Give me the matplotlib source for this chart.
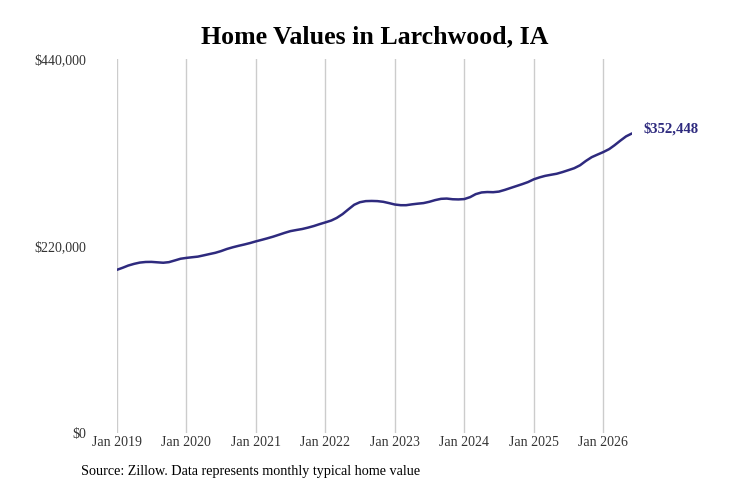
import matplotlib
matplotlib.use("Agg")
import matplotlib.pyplot as plt
import numpy as np
import pandas as pd

# ---- data ----
start_month = "2019-01-01"
values = [
    # 2019
    192000, 194500, 197000, 199000, 200500, 201200, 201300, 200800, 200300, 201000, 203000, 205000,
    # 2020
    206000, 206800, 207500, 209000, 210500, 212000, 214000, 216500, 218500, 220200, 221800, 223500,
    # 2021
    225500, 227300, 229000, 231000, 233200, 235500, 237500, 238800, 240000, 241600, 243500, 245700,
    # 2022
    247800, 250000, 253000, 257500, 263000, 268500, 271500, 272800, 273000, 272800, 272000, 270500,
    # 2023
    268800, 268000, 268000, 269000, 269800, 270500, 272000, 274000, 275500, 275800, 275000, 274800,
    # 2024
    275200, 277500, 281000, 283000, 283500, 283300, 284000, 286000, 288300, 290500, 292800, 295200,
    # 2025
    298500, 300800, 302500, 303800, 305000, 307000, 309200, 311500, 315000, 320000, 324500, 327500,
    # 2026
    330500, 334000, 338500, 344000, 349000, 352448,
]
dates = pd.date_range(start_month, periods=len(values), freq="MS")
ytick_values = [0, 220000, 440000]
ytick_labels = ["$0", "$220,000", "$440,000"]
xtick_years = list(range(2019, 2027))
xtick_labels = [f"Jan {y}" for y in xtick_years]
title = "Home Values in Larchwood, IA"
source = "Source: Zillow. Data represents monthly typical home value"
end_label = "$352,448"

# ---- style ----
plt.rcParams["font.family"] = ["Liberation Serif", "DejaVu Serif"]
line_color = "#2e2a7e"
text_color = "#333333"

fig = plt.figure(figsize=(7.31, 4.87), dpi=100)
ax = fig.add_axes([117 / 731, 1 - 433 / 487, (632 - 117) / 731, (433 - 59) / 487])

ax.plot(dates, values, color=line_color, lw=1.8, solid_capstyle="round")

ax.set_xlim(dates[0], dates[-1])
ax.set_ylim(0, 440000)

xt = [pd.Timestamp(f"{y}-01-01") for y in xtick_years]
ax.set_xticks(xt)
ax.set_xticklabels(xtick_labels, fontsize=10, color=text_color)
ax.set_yticks(ytick_values)
ax.set_yticklabels(ytick_labels, fontsize=10, color=text_color)
ax.tick_params(axis="both", length=0)
ax.tick_params(axis="y", pad=22)
ax.tick_params(axis="x", pad=2)

ax.grid(axis="x", color="#cccccc", lw=1)
ax.grid(axis="y", visible=False)
for s in ax.spines.values():
    s.set_visible(False)

ax.annotate(end_label, xy=(dates[-1], values[-1]), xytext=(8, 3), textcoords="offset points",
            fontsize=10.6, fontweight="bold", color=line_color, va="center", ha="left",
            annotation_clip=False)

fig.text(374.5 / 731, 1 - 37 / 487, title, ha="center", va="center", fontsize=18.6,
         fontweight="bold", color="black")
fig.text(81 / 731, 1 - 472 / 487, source, ha="left", va="center", fontsize=10.2, color="black")

fig.savefig("out.png", dpi=100)
